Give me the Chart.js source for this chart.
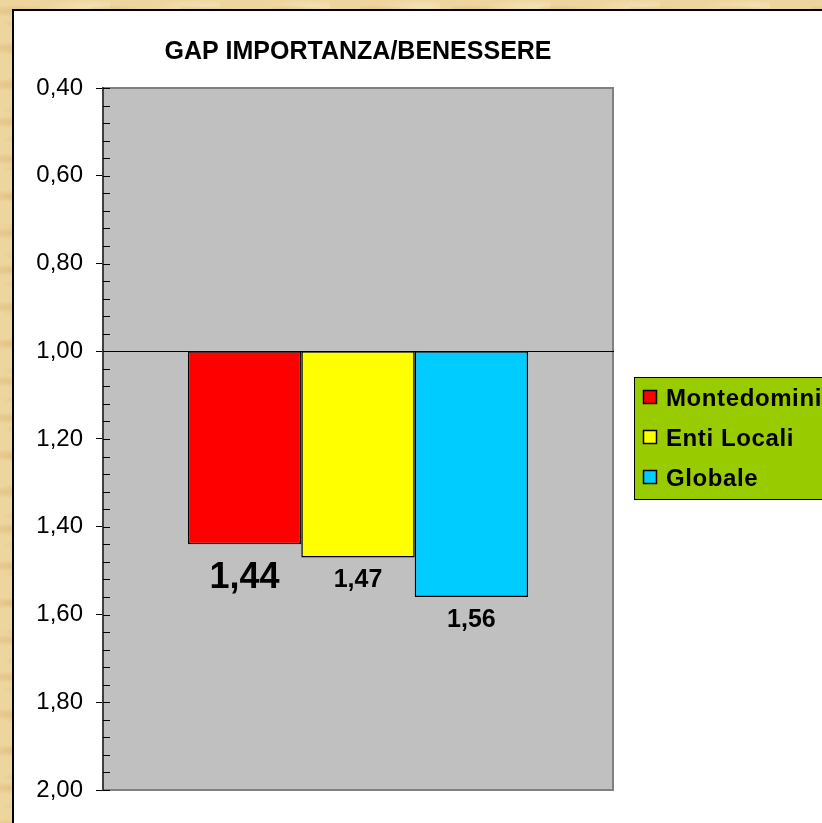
<!DOCTYPE html>
<html lang="it">
<head>
  <meta charset="UTF-8" />
  <title>GAP IMPORTANZA/BENESSERE</title>
  <style>
    html, body {
      margin: 0;
      padding: 0;
      width: 822px;
      height: 823px;
      overflow: hidden;
    }
    body {
      position: relative;
      background-color: #edd59e;
      background-image:
        radial-gradient(ellipse 40px 6px at 20% 30%, rgba(200,155,80,0.35), transparent),
        radial-gradient(ellipse 60px 8px at 70% 60%, rgba(255,245,215,0.5), transparent),
        radial-gradient(ellipse 30px 5px at 45% 80%, rgba(195,150,75,0.3), transparent),
        radial-gradient(ellipse 50px 7px at 85% 15%, rgba(255,240,205,0.45), transparent);
      background-size: 90px 37px, 120px 53px, 70px 29px, 110px 41px;
    }
    .sheet {
      position: absolute;
      left: 12px;
      top: 9px;
      width: 900px;
      height: 900px;
      background: #ffffff;
      border-top: 2px solid #000;
      border-left: 2px solid #000;
    }
    canvas {
      position: absolute;
      left: 0;
      top: 0;
    }
  </style>
</head>
<body>
  <div class="sheet"></div>
  <canvas id="gapChart" width="822" height="823"></canvas>

  <script src="https://cdn.jsdelivr.net/npm/chart.js"></script>
  <script>
    // valori
    const seriesNames = ['Montedomini', 'Enti Locali', 'Globale'];
    const gapValues = [1.44, 1.47, 1.56];
    const baseValue = 1.00;
    const categories = [''];
    const seriesColors = ['#ff0000', '#ffff00', '#00ccff'];

    // stile etichette
    const labelSizes = [36, 25, 25];
    const labelOffsets = [34, 23, 23];

    const fmt = v => v.toFixed(2).replace('.', ',');
    const FONT = "'Liberation Sans', Arial, sans-serif";
    Chart.defaults.font.family = FONT;
    Chart.defaults.color = '#000';

    const plotBackground = {
      id: 'plotBackground',
      beforeDraw(chart) {
        const { ctx, chartArea: a } = chart;
        ctx.save();
        ctx.fillStyle = '#c0c0c0';
        ctx.fillRect(a.left, a.top, a.right - a.left, a.bottom - a.top);
        ctx.strokeStyle = '#808080';
        ctx.lineWidth = 2;
        ctx.beginPath();
        ctx.moveTo(a.left, a.top);
        ctx.lineTo(a.right, a.top);
        ctx.lineTo(a.right, a.bottom);
        ctx.lineTo(a.left, a.bottom);
        ctx.stroke();
        ctx.restore();
      },
      beforeDatasetsDraw(chart) {
        // tacche secondarie interne
        const { ctx, chartArea: a } = chart;
        const y = chart.scales.y;
        ctx.save();
        ctx.strokeStyle = '#000';
        ctx.lineWidth = 1;
        for (let i = 0; i <= 40; i++) {
          const py = Math.round(y.getPixelForValue(0.4 + i * 0.04)) + 0.5;
          ctx.beginPath();
          ctx.moveTo(a.left, py);
          ctx.lineTo(a.left + 7, py);
          ctx.stroke();
        }
        ctx.restore();
      }
    };

    const valueLabels = {
      id: 'valueLabels',
      afterDatasetsDraw(chart) {
        const { ctx } = chart;
        ctx.save();
        ctx.fillStyle = '#000';
        ctx.textAlign = 'center';
        ctx.textBaseline = 'middle';
        chart.data.datasets.forEach((ds, i) => {
          const bar = chart.getDatasetMeta(i).data[0];
          ctx.font = `bold ${labelSizes[i]}px ${FONT}`;
          ctx.fillText(fmt(ds.data[0][1]), bar.x, bar.y + labelOffsets[i]);
        });
        ctx.restore();
      }
    };

    const boxLegend = {
      id: 'boxLegend',
      afterDraw(chart) {
        const { ctx, chartArea: a } = chart;
        const left = a.right + 21;
        const top = 377;
        ctx.save();
        ctx.fillStyle = '#99cc00';
        ctx.fillRect(left, top, 260, 122);
        ctx.strokeStyle = '#000';
        ctx.lineWidth = 1;
        ctx.strokeRect(left + 0.5, top + 0.5, 260, 122);
        ctx.font = `bold 24px ${FONT}`;
        ctx.letterSpacing = '0.6px';
        ctx.textBaseline = 'middle';
        chart.data.datasets.forEach((ds, i) => {
          const cy = top + 21 + i * 40;
          ctx.fillStyle = ds.backgroundColor;
          ctx.fillRect(left + 9.5, cy - 7.5, 13, 13);
          ctx.lineWidth = 1.5;
          ctx.strokeRect(left + 9.5, cy - 7.5, 13, 13);
          ctx.fillStyle = '#000';
          ctx.fillText(ds.label, left + 32, cy + 1);
        });
        ctx.restore();
      }
    };

    new Chart(document.getElementById('gapChart'), {
      type: 'bar',
      data: {
        labels: categories,
        datasets: seriesNames.map((name, i) => ({
          label: name,
          data: [[baseValue, gapValues[i]]],
          backgroundColor: seriesColors[i],
          borderColor: '#000',
          borderWidth: 1.5,
          borderSkipped: false,
          categoryPercentage: 0.667,
          barPercentage: 1.0
        }))
      },
      options: {
        responsive: false,
        animation: false,
        devicePixelRatio: 1,
        layout: { padding: { left: 0, top: 10, right: 209, bottom: 33 } },
        plugins: {
          legend: { display: false },
          tooltip: { enabled: false },
          title: {
            display: true,
            text: 'GAP IMPORTANZA/BENESSERE',
            fullSize: false,
            color: '#000',
            font: { size: 25, weight: 'bold' },
            padding: { top: 27, bottom: 21 }
          }
        },
        scales: {
          x: {
            position: { y: baseValue },
            ticks: { display: false },
            grid: { display: false },
            border: { display: true, color: '#000', width: 1 }
          },
          y: {
            reverse: true,
            min: 0.4,
            max: 2.0,
            afterFit: s => { s.width = 103; },
            ticks: {
              stepSize: 0.2,
              padding: 13,
              color: '#000',
              font: { size: 24 },
              callback: v => fmt(v)
            },
            grid: {
              drawOnChartArea: false,
              drawTicks: true,
              tickLength: 7,
              color: '#000',
              lineWidth: 1
            },
            border: { display: true, color: '#404040', width: 2 }
          }
        }
      },
      plugins: [plotBackground, valueLabels, boxLegend]
    });
  </script>
</body>
</html>
